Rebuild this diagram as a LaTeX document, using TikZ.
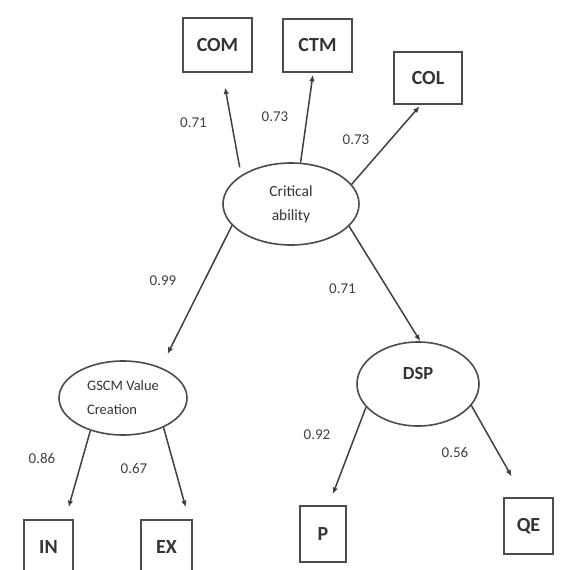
\documentclass[tikz,border=0pt]{standalone}
\usepackage{fontspec}
\setmainfont{Carlito}
\usetikzlibrary{shapes.geometric,arrows.meta}
\begin{document}
\begin{tikzpicture}[x=1pt,y=-1pt,
  obs/.style={draw=black!70, line width=1.6pt, rectangle, inner sep=0pt,
    font=\fontsize{20}{22}\selectfont\bfseries, text=black!80},
  lat/.style={draw=black!70, line width=1.6pt, ellipse, inner sep=0pt, text=black!80},
  pathar/.style={draw=black!75, line width=1.5pt, -{Latex[length=6.5pt,width=5.5pt]}},
  coef/.style={font=\fontsize{15}{17}\selectfont, text=black!75, inner sep=0pt}]
\useasboundingbox (0,0) rectangle (561,570);
\clip (0,0) rectangle (561,570);

% latent constructs
\node[lat, minimum width=136pt, minimum height=82pt, align=center,
  font=\fontsize{15.5}{24}\selectfont] (crit) at (291,204) {Critical\\ability};
\node[lat, minimum width=128pt, minimum height=74pt, align=left,
  font=\fontsize{14.5}{24}\selectfont] (gscm) at (123,398) {GSCM Value\\Creation};
\node[lat, minimum width=122pt, minimum height=84pt,
  label={[yshift=11pt, font=\fontsize{18.5}{20}\selectfont\bfseries, text=black!80]center:DSP}]
  (dsp) at (418,384) {};

% observed indicators
\node[obs, minimum width=69pt, minimum height=54pt] (com) at (217.5,45) {COM};
\node[obs, minimum width=69pt, minimum height=53pt] (ctm) at (317.5,45.5) {CTM};
\node[obs, minimum width=68pt, minimum height=52pt] (col) at (428,78) {COL};
\node[obs, minimum width=49pt, minimum height=54pt] (in) at (48.5,547) {IN};
\node[obs, minimum width=51pt, minimum height=54pt] (ex) at (166.5,547) {EX};
\node[obs, minimum width=46pt, minimum height=56pt] (p) at (323,534) {P};
\node[obs, minimum width=49pt, minimum height=56pt] (qe) at (528.5,526) {QE};

% structural and measurement paths
\draw[pathar, shorten <=8pt, shorten >=15pt] (crit.150) -- (com.-80);
\draw[pathar, shorten >=2pt] (crit.77) -- (ctm.-99);
\draw[pathar, shorten >=2pt] (crit.18) -- (col.-105);
\draw[pathar, shorten >=15pt] (crit.200) -- (gscm.39);
\draw[pathar] (crit.-21) -- (dsp.87);
\draw[pathar, shorten >=12.5pt] (gscm.225) -- (in.59);
\draw[pathar, shorten >=12.5pt] (gscm.-36) -- (ex.51);
\draw[pathar, shorten >=12pt] (dsp.204) -- (p.79);
\draw[pathar, shorten >=24pt] (dsp.-22) -- (qe.100);

% loadings
\node[coef] (l1) at (193.5,123) {0.71};
\node[coef] (l2) at (275,117) {0.73};
\node[coef] (l3) at (356,140) {0.73};
\node[coef] (l4) at (163,281) {0.99};
\node[coef] (l5) at (342.5,289) {0.71};
\node[coef] (l6) at (42,458.5) {0.86};
\node[coef] (l7) at (134,468) {0.67};
\node[coef] (l8) at (317,435) {0.92};
\node[coef] (l9) at (455,452) {0.56};
\end{tikzpicture}
\end{document}
